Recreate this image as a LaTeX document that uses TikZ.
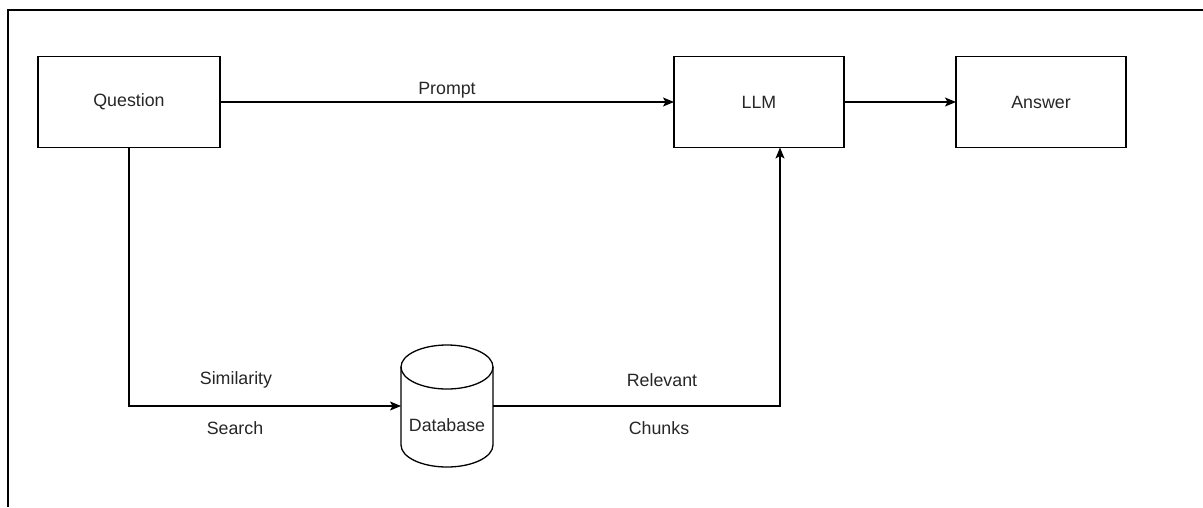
\documentclass[tikz,border=0pt]{standalone}
\usepackage{fontspec}
\setmainfont{Liberation Sans}
\usetikzlibrary{arrows.meta,calc}
\tikzset{
  line/.style={line width=1.3pt, draw=black},
  box/.style={line, rectangle, inner sep=0pt, outer sep=0pt, minimum height=91pt},
  lbl/.style={text=black!85, inner sep=0pt, font=\fontsize{17.8}{20}\selectfont},
  flow/.style={line, -{Stealth[length=11pt, width=9pt, inset=2.5pt]}},
}
\begin{document}
\begin{tikzpicture}[x=1pt, y=-1pt, every node/.style={lbl}]
\useasboundingbox (0,0) rectangle (1203,507);
% outer frame (open on the right and bottom)
\draw[line] (8,507) -- (8,10) -- (1203,10);

% process boxes
\node[box, minimum width=182pt] (q)   at (129,102)  {Question};
\node[box, minimum width=170pt] (llm) at (759,102)  {LLM};
\node[box, minimum width=170pt] (ans) at (1041,102) {Answer};

% database cylinder
\node[rectangle, minimum width=92pt, minimum height=122pt, inner sep=0pt, outer sep=0pt] (db) at (447,406) {};
\draw[line] (db.north west) ++(0,22) -- ++(0,78)
  arc[start angle=180, end angle=360, x radius=46pt, y radius=22pt] -- ++(0,-78);
\draw[line] ($(db.north)+(0,22)$) circle[x radius=46pt, y radius=22pt];
\node (dbtext) at (447,425) {Database};

% connectors
\draw[flow] (q.east) -- (llm.west);
\draw[flow] (llm.east) -- (ans.west);
\draw[flow] (q.south) |- (db.west);
\coordinate (llmin) at ([xshift=21pt]llm.south);
\draw[flow] (db.east) -| (llmin);

% connector labels
\node (prompt) at (447,90)  {Prompt};
\node (sim)    at (236,380) {Similarity};
\node (search) at (235,428) {Search};
\node (rel)    at (662,380) {Relevant};
\node (chunks) at (659,428) {Chunks};
\end{tikzpicture}
\end{document}
